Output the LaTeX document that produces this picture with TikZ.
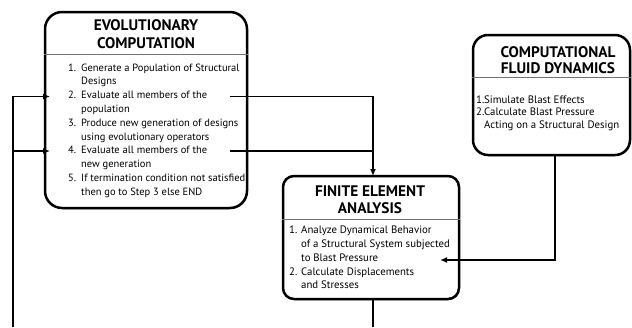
\documentclass[tikz,border=0pt]{standalone}
\usepackage{fontspec}
\setmainfont{PT Sans}
\usetikzlibrary{arrows.meta,shadows}
\begin{document}
\begin{tikzpicture}[x=1pt,y=-1pt,
  box/.style={draw=black,line width=2.5pt,fill=white,rounded corners=#1,
    drop shadow={shadow xshift=0.6pt,shadow yshift=-1pt,fill=black!80,opacity=1},
    inner sep=0pt},
  box/.default=16pt,
  divider/.style={draw=black!55,line width=0.7pt},
  ttl/.style={font={\fontsize{15.3}{17.5}\selectfont\bfseries},align=center,inner sep=0pt},
  lst/.style={font={\fontsize{10.5}{13.78}\selectfont},align=left,anchor=north west,inner sep=0pt},
  conn/.style={draw=black,line width=1.3pt},
  arr/.style={conn,-{Latex[length=7pt,width=6pt]}}
]
\useasboundingbox (0,0) rectangle (632,327);
\fill[white] (0,0) rectangle (632,327);

% boxes
\node[box=17pt,minimum width=202pt,minimum height=196pt] (ec) at (146,110) {};
\node[box=15pt,minimum width=157pt,minimum height=120pt] (cfd) at (551.5,95) {};
\node[box=11pt,minimum width=176pt,minimum height=123pt] (fea) at (371,237.5) {};

% dividers
\draw[divider] (ec.west |- 0,54) -- (ec.east |- 0,54);
\draw[divider] (cfd.west |- 0,77) -- (cfd.east |- 0,77);
\draw[divider] (fea.west |- 0,219) -- (fea.east |- 0,219);

% titles
\node[ttl] (ect) at (146,34) {EVOLUTIONARY\\COMPUTATION};
\node[ttl,font={\fontsize{15.3}{16.2}\selectfont\bfseries}] (cfdt) at (558,60) {COMPUTATIONAL\\FLUID DYNAMICS};
\node[ttl] (feat) at (370,199.5) {FINITE ELEMENT\\ANALYSIS};

% lists
\node[lst] (ecl) at (68,63.5) {%
\makebox[13pt][l]{1.}Generate a Population of Structural\\
\hspace*{13pt}Designs\\
\makebox[13pt][l]{2.}Evaluate all members of the\\
\hspace*{13pt}population\\
\makebox[13pt][l]{3.}Produce new generation of designs\\
\hspace*{13pt}using evolutionary operators\\
\makebox[13pt][l]{4.}Evaluate all members of the\\
\hspace*{13pt}new generation\\
\makebox[13pt][l]{5.}If termination condition not satisfied\\
\hspace*{13pt}then go to Step 3 else END};

\node[lst,font={\fontsize{10.8}{12.5}\selectfont}] (cfdl) at (476,95.5) {%
\makebox[8pt][l]{1.}Simulate Blast Effects\\
\makebox[8pt][l]{2.}Calculate Blast Pressure\\
\hspace*{8pt}Acting on a Structural Design};

\node[lst,font={\fontsize{10.8}{13.75}\selectfont}] (feal) at (289,226) {%
\makebox[12pt][l]{1.}Analyze Dynamical Behavior\\
\hspace*{12pt}of a Structural System subjected\\
\hspace*{12pt}to Blast Pressure\\
\makebox[12pt][l]{2.}Calculate Displacements\\
\hspace*{12pt}and Stresses};

% connector end points
\coordinate (loopbot) at (13,327);
\coordinate (in2) at (50,96.5);
\coordinate (in4) at (50,151);
\coordinate (out2) at (230,96.5);
\coordinate (out4) at (230,151);
\coordinate (join) at (373,151);
\coordinate (featop) at (373,176);
\coordinate (feabot) at (373,327);
\coordinate (cfdbot) at (555,155);
\coordinate (feain) at (440,260);

% connectors
\draw[arr] (loopbot) -- (loopbot |- in2) -- (in2);
\draw[arr] (loopbot |- in4) -- (in4);
\draw[arr] (out2) -- (join |- out2) -- (featop);
\draw[conn] (out4) -- (join);
\draw[conn] (featop |- fea.south) -- (feabot);
\draw[arr] (cfdbot) -- (cfdbot |- feain) -- (feain);
\end{tikzpicture}
\end{document}
